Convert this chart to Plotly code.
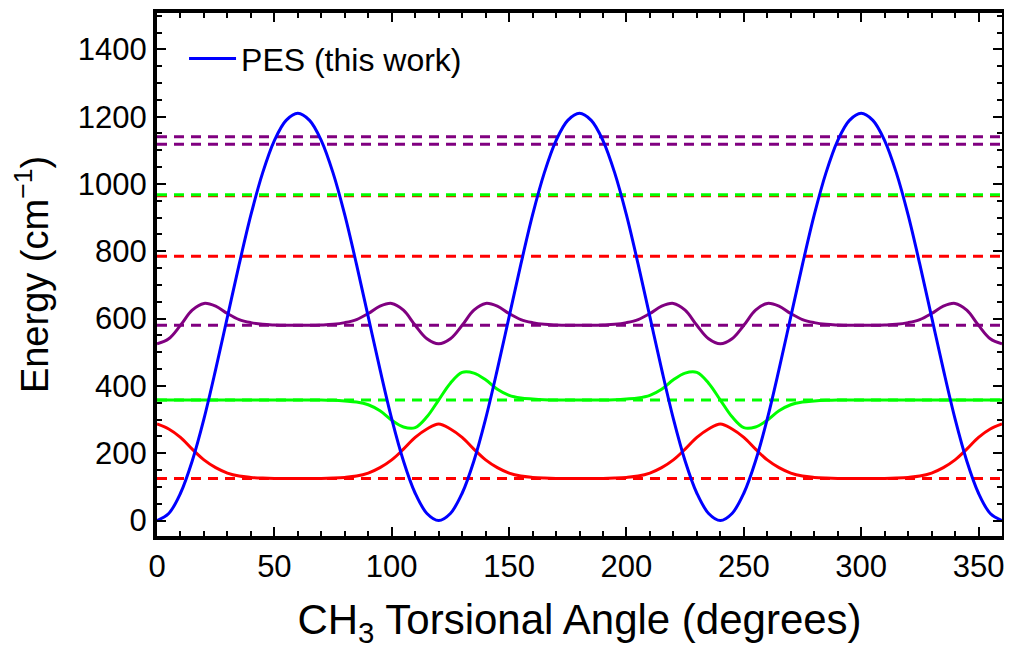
import plotly.graph_objects as go

# torsional angle grid (degrees)
angle = list(range(0, 361, 5))

# potential energy surface (cm^-1)
pes = [0, 21, 81, 177, 302, 449, 605, 761, 908, 1033, 1129, 1189, 1210,
       1189, 1129, 1033, 908, 761, 605, 449, 302, 177, 81, 21,
       0, 21, 81, 177, 302, 449, 605, 761, 908, 1033, 1129, 1189, 1210,
       1189, 1129, 1033, 908, 761, 605, 449, 302, 177, 81, 21,
       0, 21, 81, 177, 302, 449, 605, 761, 908, 1033, 1129, 1189, 1210,
       1189, 1129, 1033, 908, 761, 605, 449, 302, 177, 81, 21, 0]

# wavefunctions drawn offset at their level energies
wf_red = [287, 272, 247, 212, 180, 157, 141, 132, 128, 126, 125, 125, 125,
          125, 125, 126, 128, 132, 141, 157, 180, 212, 247, 272,
          287, 272, 247, 212, 180, 157, 141, 132, 128, 126, 125, 125, 125,
          125, 125, 126, 128, 132, 141, 157, 180, 212, 247, 272,
          287, 272, 247, 212, 180, 157, 141, 132, 128, 126, 125, 125, 125,
          125, 125, 126, 128, 132, 141, 157, 180, 212, 247, 272, 287]

wf_green = [358, 358, 358, 358, 358, 358, 358, 358, 358, 358, 358, 358, 358,
            358, 358, 357, 355, 352, 344, 326, 298, 278, 276, 308,
            358, 408, 440, 438, 418, 390, 372, 364, 361, 359, 358, 358, 358,
            358, 358, 359, 361, 364, 372, 390, 418, 438, 440, 408,
            358, 308, 276, 278, 298, 326, 344, 352, 355, 357, 358, 358, 358,
            358, 358, 358, 358, 358, 358, 358, 358, 358, 358, 358, 358]

wf_purple = [525, 540, 580, 625, 645, 637, 615, 597, 588, 583, 581, 580, 580,
             580, 581, 583, 588, 597, 615, 637, 645, 625, 580, 540,
             525, 540, 580, 625, 645, 637, 615, 597, 588, 583, 581, 580, 580,
             580, 581, 583, 588, 597, 615, 637, 645, 625, 580, 540,
             525, 540, 580, 625, 645, 637, 615, 597, 588, 583, 581, 580, 580,
             580, 581, 583, 588, 597, 615, 637, 645, 625, 580, 540, 525]

# energy levels (cm^-1)
levels = [125, 358, 580, 785, 965, 968, 1118, 1140]
level_colors = ["#FF0000", "#00FF00", "#800080", "#FF0000", "#FF0000",
                "#00FF00", "#800080", "#800080"]

x_ticks = [0, 50, 100, 150, 200, 250, 300, 350]
y_ticks = [0, 200, 400, 600, 800, 1000, 1200, 1400]

FONT = "Liberation Sans, Arial, sans-serif"

fig = go.Figure()

for e, c in zip(levels, level_colors):
    fig.add_trace(go.Scatter(x=[angle[0], angle[-1]], y=[e, e], mode="lines",
                             line=dict(color=c, width=3, dash="10px,7px"),
                             showlegend=False, hoverinfo="skip"))

for wf, c in [(wf_red, "#FF0000"), (wf_green, "#00FF00"), (wf_purple, "#800080")]:
    fig.add_trace(go.Scatter(x=angle, y=wf, mode="lines",
                             line=dict(color=c, width=3, shape="spline", smoothing=1.0),
                             showlegend=False))

fig.add_trace(go.Scatter(x=angle, y=pes, mode="lines", name="PES (this work)",
                         line=dict(color="#0000FF", width=3, shape="spline", smoothing=1.0)))

axis_common = dict(
    showline=True, linecolor="black", linewidth=4, mirror="allticks",
    ticks="inside", ticklen=9, tickwidth=2, tickcolor="black",
    showgrid=False, zeroline=False,
    tickfont=dict(family=FONT, size=31, color="black"),
)

fig.update_xaxes(range=[0, 360], tickvals=x_ticks,
                 minor=dict(dtick=10, ticks="inside", ticklen=5, tickwidth=2, tickcolor="black", showgrid=False),
                 title=dict(text="CH<sub>3</sub> Torsional Angle (degrees)\u00a0\u00a0",
                            font=dict(family=FONT, size=42, color="black"), standoff=32),
                 **axis_common)
fig.update_yaxes(range=[-46, 1508], tickvals=y_ticks,
                 minor=dict(dtick=50, ticks="inside", ticklen=5, tickwidth=2, tickcolor="black", showgrid=False),
                 title=dict(text="Energy (cm<sup>\u22121</sup>)",
                            font=dict(family=FONT, size=38, color="black"), standoff=24),
                 **axis_common)

# page body has an 8px default margin, so the figure is 8px smaller than the window
fig.update_layout(
    width=1004, height=641,
    margin=dict(l=149, r=10, t=5, b=113, autoexpand=False),
    paper_bgcolor="white", plot_bgcolor="white",
    font=dict(family=FONT, color="black"),
    legend=dict(x=0.032, y=0.965, xanchor="left", yanchor="top", itemwidth=47,
                bgcolor="rgba(0,0,0,0)", font=dict(family=FONT, size=32, color="black")),
)

fig.write_html("out.html")
